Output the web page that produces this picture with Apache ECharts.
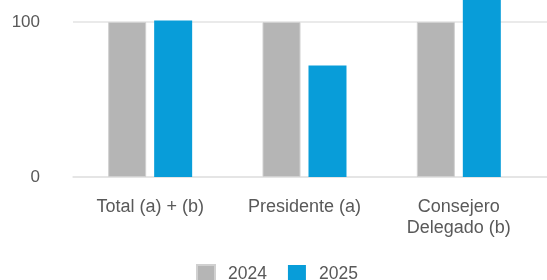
<!DOCTYPE html>
<html>
<head>
<meta charset="utf-8">
<script src="https://cdn.jsdelivr.net/npm/echarts@6/dist/echarts.min.js"></script>
<style>
  html, body { margin: 0; padding: 0; background: #fff; }
  #main { width: 547px; height: 280px; }
</style>
</head>
<body>
<div id="main"></div>
<script>
// datos del gráfico
var categorias = ['Total (a) + (b)', 'Presidente (a)', 'Consejero\nDelegado (b)'];
var valores2024 = [100, 100, 100];
var valores2025 = [101, 72, 120];
var ticksY = [0, 100];

var myChart = echarts.init(document.getElementById('main'));
var option = {
    animation: false,
    textStyle: { fontFamily: 'Liberation Sans, Arial, sans-serif' },
    grid: [
        // barras
        { left: 73, right: 11, top: 22, bottom: 103 },
        // líneas de fondo hasta el borde derecho
        { left: 73, right: 0, top: 22, bottom: 103 }
    ],
    legend: {
        data: ['2024', '2025'],
        left: 191,
        top: 259,
        itemWidth: 18,
        itemHeight: 18,
        itemGap: 21,
        icon: 'rect',
        textStyle: {
            color: '#595959',
            fontSize: 17.5,
            padding: [0, 0, 0, 8]
        }
    },
    xAxis: [
        {
            type: 'category',
            gridIndex: 0,
            data: categorias,
            axisLine: { show: false },
            axisTick: { show: false },
            axisLabel: {
                color: '#595959',
                fontSize: 18,
                lineHeight: 21,
                margin: 20,
                interval: 0
            }
        },
        {
            type: 'value',
            gridIndex: 1,
            min: 0,
            max: 1,
            axisLine: { show: true, lineStyle: { color: '#e3e3e3', width: 1.5 } },
            axisTick: { show: false },
            axisLabel: { show: false },
            splitLine: { show: false }
        }
    ],
    yAxis: [
        {
            type: 'value',
            gridIndex: 0,
            min: ticksY[0],
            max: ticksY[ticksY.length - 1],
            interval: 100,
            axisLine: { show: false },
            axisTick: { show: false },
            splitLine: { show: false },
            axisLabel: {
                color: '#595959',
                fontSize: 17,
                margin: 33
            }
        },
        {
            type: 'value',
            gridIndex: 1,
            min: ticksY[0],
            max: ticksY[ticksY.length - 1],
            interval: 100,
            axisLine: { show: false },
            axisTick: { show: false },
            axisLabel: { show: false },
            splitLine: { lineStyle: { color: '#e3e3e3', width: 1.5 } }
        }
    ],
    series: [
        {
            name: '2024',
            type: 'bar',
            data: valores2024,
            barWidth: 38,
            barGap: '21%',
            clip: false,
            z: 3,
            itemStyle: { color: '#b5b5b5', borderColor: '#d0d0d0', borderWidth: 1 }
        },
        {
            name: '2025',
            type: 'bar',
            data: valores2025,
            barWidth: 38,
            barGap: '21%',
            clip: false,
            z: 3,
            itemStyle: { color: '#089dd9' }
        }
    ]
};
myChart.setOption(option);
</script>
</body>
</html>
